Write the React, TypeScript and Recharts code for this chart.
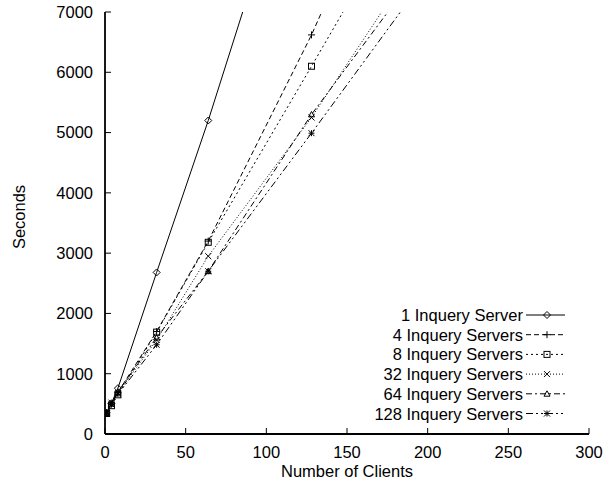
import { LineChart, Line, XAxis, YAxis, Legend, Label } from 'recharts';

// x values (number of clients) shared by every series
const clients = [1, 4, 8, 32, 64, 128, 256];

// seconds per series; points above 7000 are off the top of the plot
const oneServer = [350, 510, 760, 2680, 5200, 10600, null];
const fourServers = [350, 500, 690, 1700, 3200, 6620, 14300];
const eightServers = [340, 470, 650, 1690, 3180, 6100, 12000];
const thirtyTwoServers = [360, 520, 680, 1560, 2950, 5250, 10400];
const sixtyFourServers = [350, 500, 700, 1600, 2700, 5300, 9900];
const oneTwentyEightServers = [340, 490, 660, 1480, 2700, 4990, 9660];

const xTicks = [0, 50, 100, 150, 200, 250, 300];
const yTicks = [0, 1000, 2000, 3000, 4000, 5000, 6000, 7000];

const FONT = '"Liberation Sans", Arial, Helvetica, sans-serif';
const FONT_SIZE = 16.5;

type Marker = 'diamond' | 'plus' | 'square' | 'cross' | 'triangle' | 'star';

interface Series {
  key: string;
  name: string;
  values: (number | null)[];
  dash?: string;
  marker: Marker;
}

const SERIES: Series[] = [
  { key: 's1', name: '1 Inquery Server', values: oneServer, marker: 'diamond' },
  { key: 's4', name: '4 Inquery Servers', values: fourServers, dash: '5 3', marker: 'plus' },
  { key: 's8', name: '8 Inquery Servers', values: eightServers, dash: '2 3', marker: 'square' },
  { key: 's32', name: '32 Inquery Servers', values: thirtyTwoServers, dash: '1 2', marker: 'cross' },
  { key: 's64', name: '64 Inquery Servers', values: sixtyFourServers, dash: '6 3 2 3', marker: 'triangle' },
  { key: 's128', name: '128 Inquery Servers', values: oneTwentyEightServers, dash: '7 3 2 3 2 3', marker: 'star' },
];

const data = clients.map((c, i) => {
  const row: Record<string, number> = { clients: c };
  SERIES.forEach((s) => {
    const v = s.values[i];
    if (v != null) row[s.key] = v;
  });
  return row;
});

const MarkerShape = ({ kind, cx, cy }: { kind: Marker; cx: number; cy: number }) => {
  const r = 3;
  const common = { stroke: '#000', strokeWidth: 1, fill: 'none' };
  switch (kind) {
    case 'diamond':
      return <path d={`M${cx} ${cy - r - 0.5}L${cx + r + 0.5} ${cy}L${cx} ${cy + r + 0.5}L${cx - r - 0.5} ${cy}Z`} {...common} />;
    case 'plus':
      return <path d={`M${cx - r - 0.5} ${cy}H${cx + r + 0.5}M${cx} ${cy - r - 0.5}V${cy + r + 0.5}`} {...common} />;
    case 'square':
      return <rect x={cx - r} y={cy - r} width={2 * r} height={2 * r} {...common} />;
    case 'cross':
      return <path d={`M${cx - r} ${cy - r}L${cx + r} ${cy + r}M${cx + r} ${cy - r}L${cx - r} ${cy + r}`} {...common} />;
    case 'triangle':
      return <path d={`M${cx} ${cy - r}L${cx + r} ${cy + r * 0.8}L${cx - r} ${cy + r * 0.8}Z`} {...common} />;
    case 'star':
      return (
        <path
          d={`M${cx - r} ${cy}H${cx + r}M${cx} ${cy - r}V${cy + r}M${cx - r} ${cy - r}L${cx + r} ${cy + r}M${cx + r} ${cy - r}L${cx - r} ${cy + r}`}
          {...common}
        />
      );
  }
};

const renderLegend = () => (
  <svg width={250} height={125} style={{ overflow: 'visible' }}>
    {SERIES.map((s, i) => {
      const y = 13 + i * 19.7;
      return (
        <g key={s.key}>
          <text
            x={193}
            y={y}
            textAnchor="end"
            dominantBaseline="central"
            fontFamily={FONT}
            fontSize={FONT_SIZE}
            fill="#000"
          >
            {s.name}
          </text>
          <line x1={196} x2={235} y1={y} y2={y} stroke="#000" strokeWidth={1} strokeDasharray={s.dash} />
          <MarkerShape kind={s.marker} cx={217} cy={y} />
        </g>
      );
    })}
  </svg>
);

const tickStyle = { fill: '#000', fontSize: FONT_SIZE, fontFamily: FONT };
const axisLine = { stroke: '#000', strokeWidth: 1.8 };
const tickLine = { stroke: '#000', strokeWidth: 1 };

export default function App() {
  return (
    <div style={{ position: 'absolute', left: 0, top: 0, width: 616, height: 487, background: '#fff' }}>
      <LineChart width={616} height={487} data={data} margin={{ top: 12, right: 27, bottom: 0, left: 0 }}>
        <XAxis
          dataKey="clients"
          type="number"
          domain={[0, 300]}
          ticks={xTicks}
          allowDataOverflow
          height={53}
          tickSize={-6}
          tickMargin={18}
          tick={tickStyle}
          axisLine={axisLine}
          tickLine={tickLine}
        >
          <Label
            value="Number of Clients"
            position="insideBottom"
            offset={10}
            style={{ fill: '#000', fontSize: FONT_SIZE, fontFamily: FONT }}
          />
        </XAxis>
        <XAxis
          xAxisId="top"
          orientation="top"
          type="number"
          domain={[0, 300]}
          ticks={xTicks}
          allowDataOverflow
          height={0}
          tickSize={-6}
          tick={false}
          axisLine={axisLine}
          tickLine={tickLine}
        />
        <YAxis
          type="number"
          domain={[0, 7000]}
          ticks={yTicks}
          allowDataOverflow
          width={105}
          tickSize={-6}
          tickMargin={18}
          tick={tickStyle}
          axisLine={axisLine}
          tickLine={tickLine}
        >
          <Label
            content={() => (
              <text
                x={19}
                y={217}
                transform="rotate(-90 19 217)"
                textAnchor="middle"
                dominantBaseline="central"
                fontFamily={FONT}
                fontSize={FONT_SIZE}
                fill="#000"
              >
                Seconds
              </text>
            )}
          />
        </YAxis>
        <YAxis
          yAxisId="right"
          orientation="right"
          type="number"
          domain={[0, 7000]}
          ticks={yTicks}
          allowDataOverflow
          width={0}
          tickSize={-6}
          tick={false}
          axisLine={axisLine}
          tickLine={tickLine}
        />
        <Legend
          layout="vertical"
          align="center"
          verticalAlign="middle"
          wrapperStyle={{ left: 330, top: 302, width: 250, height: 125 }}
          content={renderLegend}
        />
        {SERIES.map((s) => (
          <Line
            key={s.key}
            dataKey={s.key}
            name={s.name}
            type="linear"
            stroke="#000"
            strokeWidth={1}
            strokeDasharray={s.dash}
            isAnimationActive={false}
            connectNulls={false}
            activeDot={false}
            dot={(p: any) => (
              <g key={`${s.key}-${p.index}`}>
                {p.cx != null && p.cy != null && <MarkerShape kind={s.marker} cx={p.cx} cy={p.cy} />}
              </g>
            )}
          />
        ))}
      </LineChart>
    </div>
  );
}
